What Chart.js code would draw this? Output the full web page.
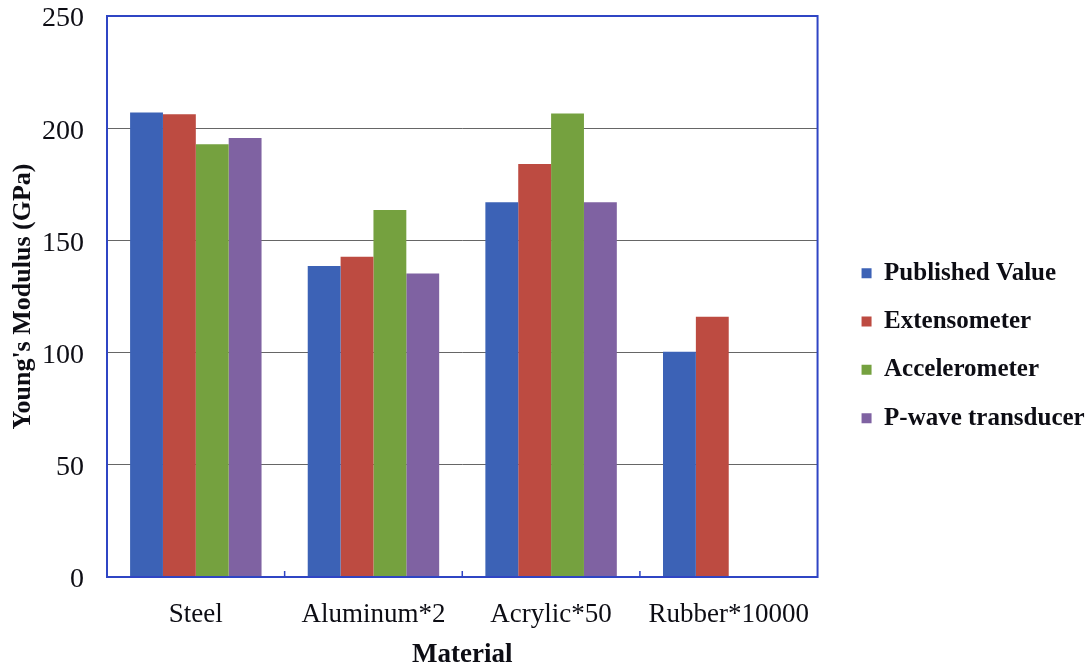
<!DOCTYPE html>
<html>
<head>
<meta charset="utf-8">
<script src="https://cdn.jsdelivr.net/npm/chart.js@4/dist/chart.umd.min.js"></script>
<style>
    html, body { margin: 0; padding: 0; background: #fff; }
    #wrap { width: 1092px; height: 665px; }
</style>
</head>
<body>
<div id="wrap"><canvas id="modulusChart"></canvas></div>
<script>
    "use strict";

    // materials tested, scaled so they fit on one axis
    var materials = ['Steel', 'Aluminum*2', 'Acrylic*50', 'Rubber*10000'];

    // Young's modulus per method (GPa, scaled)
    var publishedValue = [207, 138.6, 167, 100.4];
    var extensometer = [206.2, 142.7, 184, 116];
    var accelerometer = [192.8, 163.5, 206.6, null];
    var pwaveTransducer = [195.6, 135.3, 167, null];

    var yTicks = [0, 50, 100, 150, 200, 250];

    var serif = '"Liberation Serif", "Times New Roman", serif';
    var frameBlue = '#2f45c4';
    var ink = '#0d0d14';

    // blue frame round the plot area plus the small inner ticks between categories
    var plotFrame = {
        id: 'plotFrame',
        afterDraw: function (chart) {
            var ctx = chart.ctx;
            var area = chart.chartArea;
            var xs = chart.scales.x;
            ctx.save();
            ctx.strokeStyle = frameBlue;
            ctx.lineWidth = 2;
            ctx.strokeRect(area.left, area.top, area.right - area.left, area.bottom - area.top);
            ctx.lineWidth = 1.5;
            ctx.beginPath();
            for (var i = 1; i < materials.length; i++) {
                var x = (xs.getPixelForValue(i - 1) + xs.getPixelForValue(i)) / 2;
                ctx.moveTo(x, area.bottom);
                ctx.lineTo(x, area.bottom - 6);
            }
            ctx.stroke();
            ctx.restore();
        }
    };

    function dataset(label, data, color) {
        return {
            label: label,
            data: data,
            backgroundColor: color,
            borderWidth: 0,
            categoryPercentage: 0.74,
            barPercentage: 1.0
        };
    }

    var ctx = document.getElementById('modulusChart');
    new Chart(ctx, {
        type: 'bar',
        data: {
            labels: materials,
            datasets: [
                dataset('Published Value', publishedValue, '#3c62b6'),
                dataset('Extensometer', extensometer, '#bd4b41'),
                dataset('Accelerometer', accelerometer, '#75a13f'),
                dataset('P-wave transducer', pwaveTransducer, '#7f62a2')
            ]
        },
        options: {
            responsive: true,
            maintainAspectRatio: false,
            animation: false,
            layout: { padding: { top: 0, right: -2.7, bottom: 0, left: 10 } },
            plugins: {
                tooltip: { enabled: false },
                legend: {
                    position: 'right',
                    maxWidth: 260,
                    // blank title just nudges the entries down a little
                    title: { display: true, text: ' ', padding: 0, font: { size: 22 } },
                    labels: {
                        color: ink,
                        font: { family: serif, size: 25, weight: 'bold' },
                        boxWidth: 10,
                        boxHeight: 10,
                        padding: 23.3
                    }
                }
            },
            scales: {
                x: {
                    grid: { display: false, drawTicks: false },
                    border: { display: true, color: frameBlue, width: 2 },
                    ticks: {
                        color: ink,
                        font: { family: serif, size: 27, lineHeight: 1.2 },
                        padding: 22,
                        maxRotation: 0
                    },
                    title: {
                        display: true,
                        text: 'Material',
                        color: ink,
                        font: { family: serif, size: 27, weight: 'bold', lineHeight: 1 },
                        padding: { top: 11, bottom: -4 }
                    },
                    afterFit: function (scale) { scale.height = 88; }
                },
                y: {
                    min: 0,
                    max: 250,
                    afterBuildTicks: function (axis) {
                        axis.ticks = yTicks.map(function (v) { return { value: v }; });
                    },
                    grid: {
                        color: '#666',
                        lineWidth: 1,
                        drawTicks: false
                    },
                    border: { display: true, color: frameBlue, width: 2 },
                    ticks: {
                        color: ink,
                        font: { family: serif, size: 28 },
                        padding: 23,
                        labelOffset: 3
                    },
                    title: {
                        display: true,
                        text: "Young's Modulus (GPa)",
                        color: ink,
                        font: { family: serif, size: 26, weight: 'bold', lineHeight: 1 },
                        padding: { top: 0, bottom: 6 }
                    },
                    afterFit: function (scale) {
                        scale.width = 97;
                        // tick padding should only push labels sideways, not down from the top
                        scale.paddingTop = 16;
                        scale.paddingBottom = 0;
                    }
                },
                // empty right-hand axis keeps a gap between the plot and the legend
                gap: {
                    position: 'right',
                    display: true,
                    grid: { display: false, drawTicks: false },
                    border: { display: false },
                    ticks: { display: false },
                    afterFit: function (scale) { scale.width = 20.7; }
                }
            }
        },
        plugins: [plotFrame]
    });
</script>
</body>
</html>
